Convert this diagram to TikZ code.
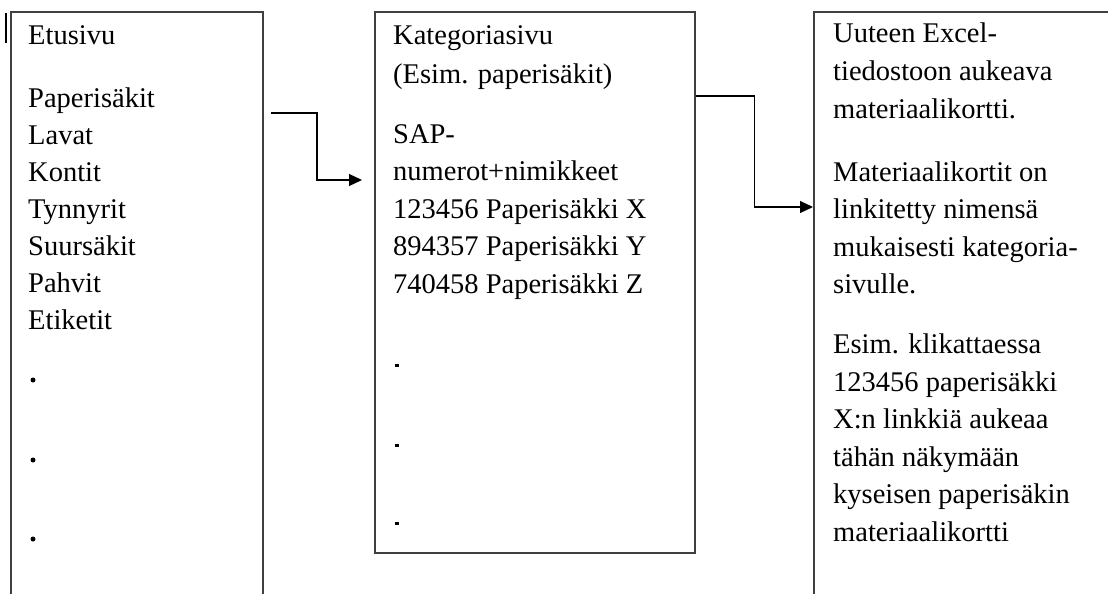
\documentclass[tikz,border=0pt]{standalone}
\usepackage{fontspec}
\setmainfont{Liberation Serif}
\usetikzlibrary{arrows.meta}
\definecolor{boxgray}{HTML}{404040}
\begin{document}
\begin{tikzpicture}[x=1pt,y=-1pt,
  box/.style={draw=boxgray,line width=1.6pt,inner sep=0pt,anchor=north west},
  txt/.style={anchor=base west,inner sep=0pt,font=\fontsize{28.5}{34}\selectfont,text=black},
  conn/.style={draw=black,line width=1.1pt,-{Triangle[length=13pt,width=12pt]}},
  bullet/.style={circle,fill=black,inner sep=0pt,minimum size=5pt},
  period/.style={rectangle,fill=black,inner sep=0pt,minimum width=4pt,minimum height=3pt}]
\useasboundingbox (0,0) rectangle (1108,594);
\clip (0,0) rectangle (1108,594);
\fill[white] (0,0) rectangle (1108,594);
% boxes
\node[box,minimum width=252pt,minimum height=640pt] (front) at (10,11) {};
\node[box,minimum width=320pt,minimum height=541pt] (cat) at (374,11) {};
\node[box,minimum width=340pt,minimum height=640pt] (card) at (813,11) {};
% small mark top-left
\draw[line width=2pt,black] (6,13) -- (6,43);
% left texts
\foreach \t/\y [count=\i] in {{Etusivu}/45,{Paperisäkit}/107,{Lavat}/144,{Kontit}/181,{Tynnyrit}/218,{Suursäkit}/255,{Pahvit}/292,{Etiketit}/329}
  \node[txt] (L\i) at (28,\y) {\t};
\foreach \y [count=\i] in {380,460,539}
  \node[bullet] (LB\i) at (33,\y) {};
% middle texts
\foreach \t/\y [count=\i] in {{Kategoriasivu}/45,{(Esim. paperisäkit)}/83,{SAP-}/143,{numerot+nimikkeet}/180,{123456 Paperisäkki X}/218,{894357 Paperisäkki Y}/255,{740458 Paperisäkki Z}/293}
  \node[txt] (M\i) at (393,\y) {\t};
\foreach \y [count=\i] in {365,445,523}
  \node[period] (MD\i) at (397,\y) {};
% right texts
\foreach \t/\y [count=\i] in {{Uuteen Excel-}/43,{tiedostoon aukeava}/81,{materiaalikortti.}/118,{Materiaalikortit on}/181,{linkitetty nimensä}/218,{mukaisesti kategoria-}/256,{sivulle.}/293,{Esim. klikattaessa}/353,{123456 paperisäkki}/391,{X:n linkkiä aukeaa}/428,{tähän näkymään}/466,{kyseisen paperisäkin}/503,{materiaalikortti}/541}
  \node[txt] (R\i) at (833,\y) {\t};
% connectors
\coordinate (a1s) at (271,113);
\coordinate (a1e) at (362,180);
\draw[conn] (a1s) -- (317,113) |- (a1e);
\draw[conn] ([yshift=-85pt]cat.north east) -- ++(59,0) |- ([yshift=-196pt]card.north west);
\end{tikzpicture}
\end{document}
